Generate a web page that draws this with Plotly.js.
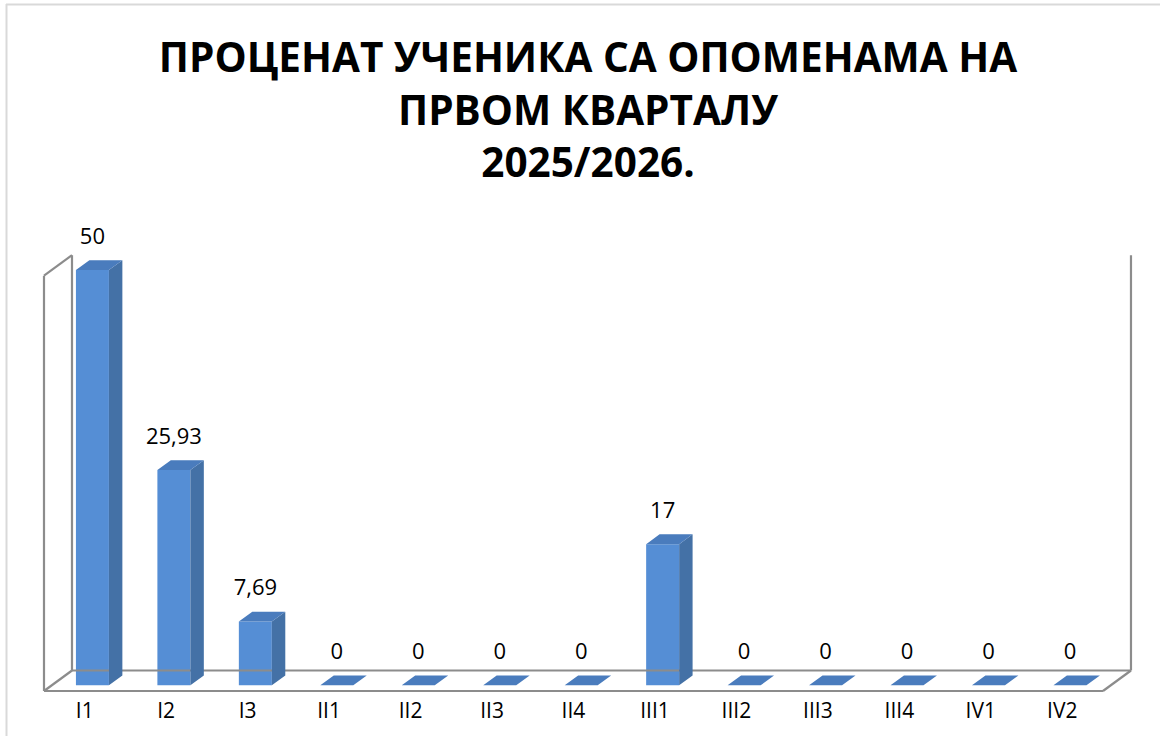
<!DOCTYPE html>
<html>
<head>
<meta charset="utf-8">
<script src="https://cdn.plot.ly/plotly-3.0.1.min.js"></script>
<style>
  html, body { margin: 0; padding: 0; background: #ffffff; }
  #chart { width: 1160px; height: 736px; }
</style>
</head>
<body>
<div id="chart"></div>
<script>
// ---- data ----
const categories = ["I1", "I2", "I3", "II1", "II2", "II3", "II4", "III1", "III2", "III3", "III4", "IV1", "IV2"];
const values = [50, 25.93, 7.69, 0, 0, 0, 0, 17, 0, 0, 0, 0, 0];
const chartTitle = ["ПРОЦЕНАТ УЧЕНИКА СА ОПОМЕНАМА НА", "ПРВОМ КВАРТАЛУ", "2025/2026."];
const axisMax = 50;

// ---- geometry (pseudo-3D projection, in axis units) ----
const W = 1160, H = 736;
const SX = 81.46;          // px per category slot
const SY = 8.306;          // px per value unit
const FLOOR_PY = 691;      // pixel row of the front floor edge
const MB = 40;             // bottom margin
const plotH = H - MB;
const N = categories.length;
const WDX = 28 / SX, WDY = 20.5 / SY;   // wall depth
const BF = 0.275, BD = 0.48;            // bar front position / depth (fraction of wall depth)
const BW = 0.405;                        // bar width (slots)
const base = WDY * BF;
const bdx = WDX * BD, bdy = WDY * BD;
const xc = categories.map((c, i) => i + WDX * BF);

const colFront = "#558ed5", colSide = "#4471a6", colTop = "#4a7cbd";
const frameCol = "#8c8c8c";

// frame lines
const xl = -0.5, xr = N - 0.5;
const fx = [], fy = [];
function seg(a, b, c, d) { fx.push(a, c, null); fy.push(b, d, null); }
seg(xl, 0, xr, 0);
seg(xr, 0, xr + WDX, WDY);
seg(xl + WDX, WDY, xr + WDX, WDY);
seg(xl, 0, xl + WDX, WDY);
seg(xl, 0, xl, axisMax);
seg(xl, axisMax, xl + WDX, axisMax + WDY);
seg(xl + WDX, WDY, xl + WDX, axisMax + WDY);
seg(xr + WDX, WDY, xr + WDX, axisMax + WDY);

// faces
const sx = [], sy = [], tx = [], ty = [];
values.forEach((v, i) => {
  const x0 = xc[i] - BW / 2, x1 = xc[i] + BW / 2, t = base + v;
  tx.push(x0, x1, x1 + bdx, x0 + bdx, x0, null);
  ty.push(t, t, t + bdy, t + bdy, t, null);
  if (v > 0) {
    sx.push(x1, x1, x1 + bdx, x1 + bdx, x1, null);
    sy.push(base, t, t + bdy, base + bdy, base, null);
  }
});

const labelText = values.map(v => String(v).replace(".", ","));
const labelY = values.map(v => base + v + 31.5 / SY);

const traces = [
  { type: "scatter", mode: "lines", x: fx, y: fy, line: { color: frameCol, width: 2.2 }, hoverinfo: "skip", showlegend: false },
  { type: "bar", x: xc, y: values, base: base, width: BW, marker: { color: colFront, line: { width: 0 } }, hoverinfo: "skip", showlegend: false },
  { type: "scatter", mode: "none", x: sx, y: sy, fill: "toself", fillcolor: colSide, hoverinfo: "skip", showlegend: false },
  { type: "scatter", mode: "none", x: tx, y: ty, fill: "toself", fillcolor: colTop, hoverinfo: "skip", showlegend: false },
  { type: "scatter", mode: "text", x: xc, y: labelY, text: labelText, textposition: "middle center",
    textfont: { family: "Open Sans", size: 22, color: "#000000" }, cliponaxis: false, hoverinfo: "skip", showlegend: false }
];

const x0r = (0 - 84.73) / SX, x1r = (W - 84.73) / SX;
const y0r = -(plotH - FLOOR_PY) / SY, y1r = FLOOR_PY / SY;

const layout = {
  width: W, height: H,
  margin: { l: 0, r: 0, t: 0, b: MB, pad: 0 },
  paper_bgcolor: "#ffffff", plot_bgcolor: "rgba(0,0,0,0)",
  barmode: "overlay",
  title: {
    text: "<b>" + chartTitle.join("<br>") + "</b>",
    font: { family: "Open Sans", size: 40.5, color: "#000000" },
    x: 588 / W, xref: "container", xanchor: "center",
    y: 1 - 72 / H, yref: "container", yanchor: "top"
  },
  xaxis: {
    range: [x0r, x1r], showgrid: false, zeroline: false, showline: false, ticks: "",
    tickmode: "array", tickvals: categories.map((c, i) => i), ticktext: categories,
    tickfont: { family: "Open Sans", size: 21, color: "#000000" },
    ticklabelstandoff: 0, fixedrange: true
  },
  yaxis: {
    range: [y0r, y1r], showgrid: false, zeroline: false, showline: false, showticklabels: false, ticks: "", fixedrange: true
  },
  shapes: [
    { type: "line", xref: "paper", yref: "paper", x0: 6 / W, x1: 1, y0: 1 - 4.5 / plotH, y1: 1 - 4.5 / plotH, line: { color: "#d9d9d9", width: 2 } },
    { type: "line", xref: "paper", yref: "paper", x0: 6.5 / W, x1: 6.5 / W, y0: 1 - 4 / plotH, y1: -(MB) / plotH, line: { color: "#d9d9d9", width: 2 } }
  ],
  showlegend: false
};

Plotly.newPlot("chart", traces, layout, { displayModeBar: false, staticPlot: true });
</script>
</body>
</html>
